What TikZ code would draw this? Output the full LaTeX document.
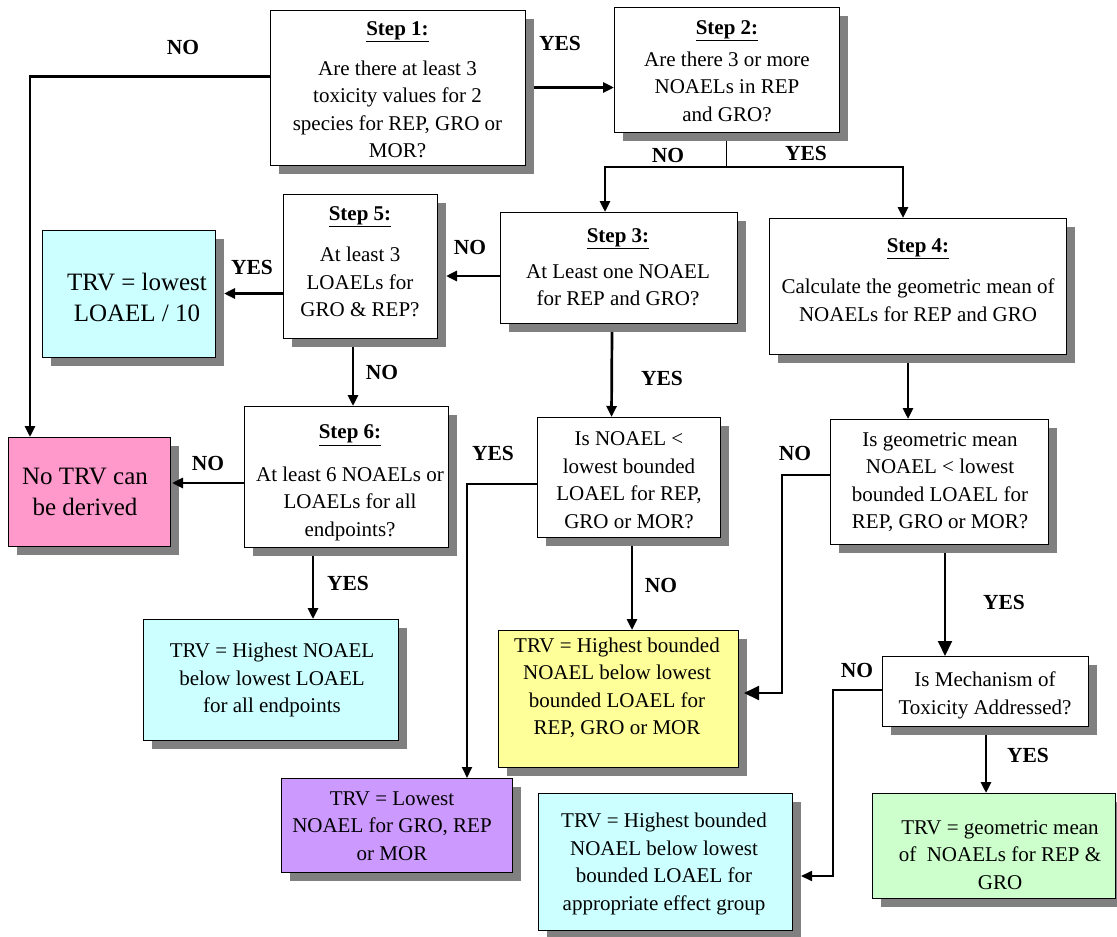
\documentclass[tikz,border=0pt]{standalone}
\usepackage{fontspec}
\setmainfont{Liberation Serif}
\usetikzlibrary{arrows.meta,shadows,calc}
\definecolor{shgray}{HTML}{808080}
\definecolor{cyanbox}{HTML}{CCFFFF}
\definecolor{pinkbox}{HTML}{FF99CC}
\definecolor{yellowbox}{HTML}{FFFF99}
\definecolor{purplebox}{HTML}{CC99FF}
\definecolor{greenbox}{HTML}{CCFFCC}
\newcommand{\mybox}[6]{\node[flowbox,fill=#6,minimum width={(#4-#2)*1pt},minimum height={(#5-#3)*1pt}] (#1) at ({(#2+#4)/2},{(#3+#5)/2}) {};}
\newcommand{\stephead}[1]{\textbf{\underline{#1}}}
\tikzset{
 flowbox/.style={draw=black,line width=0.8pt,rectangle,inner sep=0pt,outer sep=0pt,drop shadow={shadow xshift=9pt,shadow yshift=-9pt,fill=shgray,opacity=1}},
 txt/.style={align=center,inner sep=0pt,font=\fontsize{21}{27.5}\selectfont},
 bigtxt/.style={align=center,inner sep=0pt,font=\fontsize{25}{31}\selectfont},
 lbl/.style={inner sep=0pt,font=\bfseries\fontsize{21.5}{23}\selectfont},
 arr/.style={line width=2.7pt,-{Triangle[length=11pt,width=10pt]}},
 thinarr/.style={line width=1.9pt,-{Triangle[length=11pt,width=10pt]}},
 bigarr/.style={line width=1.9pt,-{Triangle[length=15pt,width=14pt]}},
 plain/.style={line width=1.6pt},
}
\begin{document}
\begin{tikzpicture}[x=1pt,y=-1pt]
\useasboundingbox (0,0) rectangle (1117,937);
% boxes
\mybox{s1}{270}{10}{525}{165}{white}
\mybox{s2}{614}{7}{839}{132}{white}
\mybox{s3}{500}{212}{737}{323}{white}
\mybox{s4}{769}{218}{1066}{354}{white}
\mybox{s5}{283}{194}{437}{338}{white}
\mybox{t10}{42}{230}{215}{357}{cyanbox}
\mybox{s6}{244}{406}{448}{547}{white}
\mybox{notrv}{8}{437}{170}{546}{pinkbox}
\mybox{q1}{537}{417}{720}{537}{white}
\mybox{q2}{830}{419}{1048}{544}{white}
\mybox{r1}{143}{619}{398}{740}{cyanbox}
\mybox{r2}{498}{630}{738}{767}{yellowbox}
\mybox{q3}{882}{656}{1088}{726}{white}
\mybox{r3}{281}{778}{512}{872}{purplebox}
\mybox{r4}{538}{793}{792}{930}{cyanbox}
\mybox{r5}{872}{793}{1115}{898}{greenbox}
% texts
\node[txt] (s1t) at (397.5,90) {\stephead{Step 1:}\\[12pt]Are there at least 3\\toxicity values for 2\\species for REP, GRO or\\MOR?};
\node[txt] (s2t) at (727,71) {\stephead{Step 2:}\\[4pt]Are there 3 or more\\NOAELs in REP\\and GRO?};
\node[txt] (s3t) at (618,267.5) {\stephead{Step 3:}\\[8pt]At Least one NOAEL\\for REP and GRO?};
\node[txt] (s4t) at (918,280) {\stephead{Step 4:}\\[14pt]Calculate the geometric mean of\\NOAELs for REP and GRO};
\node[txt] (s5t) at (360,261.5) {\stephead{Step 5:}\\[14pt]At least 3\\LOAELs for\\GRO \& REP?};
\node[txt] (s6t) at (350,483) {\stephead{Step 6:}\\[15pt]At least 6 NOAELs or\\LOAELs for all\\endpoints?};
\node[bigtxt] (t10t) at (137,297) {TRV = lowest\\LOAEL / 10};
\node[bigtxt] (notrvt) at (85,492) {No TRV can\\be derived};
\node[txt] (q1t) at (629,480) {Is NOAEL <\\lowest bounded\\LOAEL for REP,\\GRO or MOR?};
\node[txt] (q2t) at (940,482) {Is geometric mean\\NOAEL < lowest\\bounded LOAEL for\\REP, GRO or MOR?};
\node[txt] (r1t) at (272,680) {TRV = Highest NOAEL\\below lowest LOAEL\\for all endpoints};
\node[txt] (r2t) at (617,688) {TRV = Highest bounded\\NOAEL below lowest\\bounded LOAEL for\\REP, GRO or MOR};
\node[txt] (q3t) at (985,695.5) {Is Mechanism of\\Toxicity Addressed?};
\node[txt] (r3t) at (392,826) {TRV = Lowest\\NOAEL for GRO, REP\\or MOR};
\node[txt] (r4t) at (664,864) {TRV = Highest bounded\\NOAEL below lowest\\bounded LOAEL for\\appropriate effect group};
\node[txt] (r5t) at (1000,855) {TRV = geometric mean\\of~ NOAELs for REP \&\\GRO};
% labels
\node[lbl] (l1) at (183,47) {NO};
\node[lbl] (l2) at (560,43) {YES};
\node[lbl] (l3) at (668,155) {NO};
\node[lbl] (l4) at (806,153) {YES};
\node[lbl] (l5) at (470,247) {NO};
\node[lbl] (l6) at (252,267) {YES};
\node[lbl] (l7) at (382,372) {NO};
\node[lbl] (l8) at (662,378) {YES};
\node[lbl] (l9) at (493,453) {YES};
\node[lbl] (l10) at (208,463) {NO};
\node[lbl] (l11) at (795,453) {NO};
\node[lbl] (l12) at (348,583) {YES};
\node[lbl] (l13) at (661,585) {NO};
\node[lbl] (l14) at (1004,602) {YES};
\node[lbl] (l15) at (857,670) {NO};
\node[lbl] (l16) at (1028,755) {YES};
% connectors
\draw[arr] ([xshift=9pt]s1.east) -- (s1.east -| s2.west);
\draw[arr] ([yshift=11pt]s1.west) -| ([xshift=-59pt]notrv.north);
\draw[plain] ([yshift=-9pt]s2.south) -- ++(0,26) coordinate (sp);
\draw[arr] (sp) -| ([xshift=-13.5pt]s3.north);
\draw[arr] (sp) -| ([xshift=-14.5pt]s4.north);
\draw[arr] ([yshift=-8.5pt]s3.west) -- ([xshift=9pt,yshift=-10pt]s5.east);
\draw[arr] (s5.west |- t10.east) -- ([xshift=9pt]t10.east);
\draw[arr] ([xshift=-7pt,yshift=-9pt]s5.south) -- ([xshift=7pt]s6.north);
\draw[arr] ([yshift=-6.5pt]s6.west) -- ([xshift=2pt,yshift=-6.5pt]s6.west -| notrv.east);
\draw[arr] ([xshift=-33pt,yshift=-9pt]s6.south) -- ([xshift=42.5pt]r1.north);
\draw[arr] ([xshift=-6.5pt,yshift=-9pt]s3.south) -- ([xshift=-17pt]q1.north);
\draw[thinarr] ([yshift=-7pt]q1.west) -| ([xshift=70.5pt]r3.north);
\draw[arr] ([xshift=3.5pt,yshift=-9pt]q1.south) -- ([xshift=14pt]r2.north);
\draw[arr] ([xshift=-9.5pt,yshift=-9pt]s4.south) -- ([xshift=-31pt]q2.north);
\draw[bigarr] ([yshift=6.5pt]q2.west) -- ++(-48,0) |- ([xshift=6pt,yshift=5.5pt]r2.east);
\draw[bigarr] ([xshift=6pt,yshift=-9pt]q2.south) -- ([xshift=-40pt]q3.north);
\draw[thinarr] ([yshift=1pt]q3.west) -- ++(-49,0) |- ([xshift=9pt,yshift=-14.5pt]r4.east);
\draw[arr] ([xshift=1pt,yshift=-9pt]q3.south) -- ([xshift=-7.5pt]r5.north);
\end{tikzpicture}
\end{document}
